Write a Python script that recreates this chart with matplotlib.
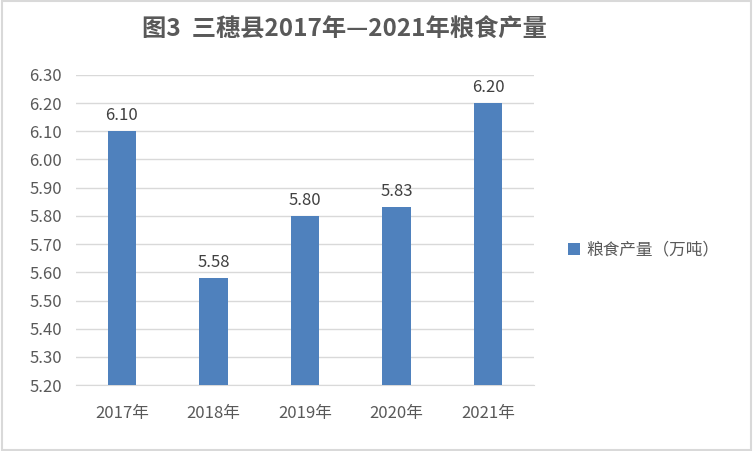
import matplotlib
matplotlib.use("Agg")
import matplotlib.pyplot as plt
from matplotlib.patches import Rectangle

categories = ["2017年", "2018年", "2019年", "2020年", "2021年"]
values = [6.10, 5.58, 5.80, 5.83, 6.20]
yticks = [5.20, 5.30, 5.40, 5.50, 5.60, 5.70, 5.80, 5.90, 6.00, 6.10, 6.20, 6.30]
series_name = "粮食产量（万吨）"
title = "图3  三穗县2017年—2021年粮食产量"

plt.rcParams['font.family'] = ['Noto Sans CJK SC', 'DejaVu Sans']

fig = plt.figure(figsize=(7.53, 4.51), dpi=100)
ax = fig.add_axes([0.101, 0.146, 0.608, 0.688])
x = list(range(len(categories)))
bars = ax.bar(x, [v - 5.20 for v in values], bottom=5.20, width=0.31, color="#4F81BD", label=series_name, zorder=3)
for xi, v in zip(x, values):
    ax.text(xi, v + 0.025, f"{v:.2f}", ha="center", va="bottom", fontsize=12, color="#404040")
ax.set_xlim(-0.5, len(categories) - 0.5)
ax.set_ylim(5.20, 6.30)
ax.set_yticks(yticks)
ax.set_yticklabels([f"{t:.2f}" for t in yticks])
ax.set_xticks(x)
ax.set_xticklabels(categories)
ax.grid(axis="y", color="#D9D9D9", linewidth=1, zorder=0)
for s in ["top", "right", "left"]:
    ax.spines[s].set_visible(False)
ax.spines["bottom"].set_color("#D9D9D9")
ax.tick_params(axis="both", length=0, labelsize=12, colors="#595959")
ax.tick_params(axis="x", pad=14)
ax.tick_params(axis="y", pad=10)

fig.text(0.458, 0.935, title, ha="center", va="center", fontsize=17.5, fontweight="bold", color="#595959")
fig.legend(handles=[bars], labels=[series_name], loc="center left", bbox_to_anchor=(0.735, 0.445),
           frameon=False, fontsize=12, handlelength=0.7, handleheight=0.7, handletextpad=0.4,
           labelcolor="#595959")
fig.patches.append(Rectangle((0.002, 0.003), 0.996, 0.994, transform=fig.transFigure,
                             fill=False, edgecolor="#D9D9D9", linewidth=1.5))
fig.savefig("out.png", dpi=100)
